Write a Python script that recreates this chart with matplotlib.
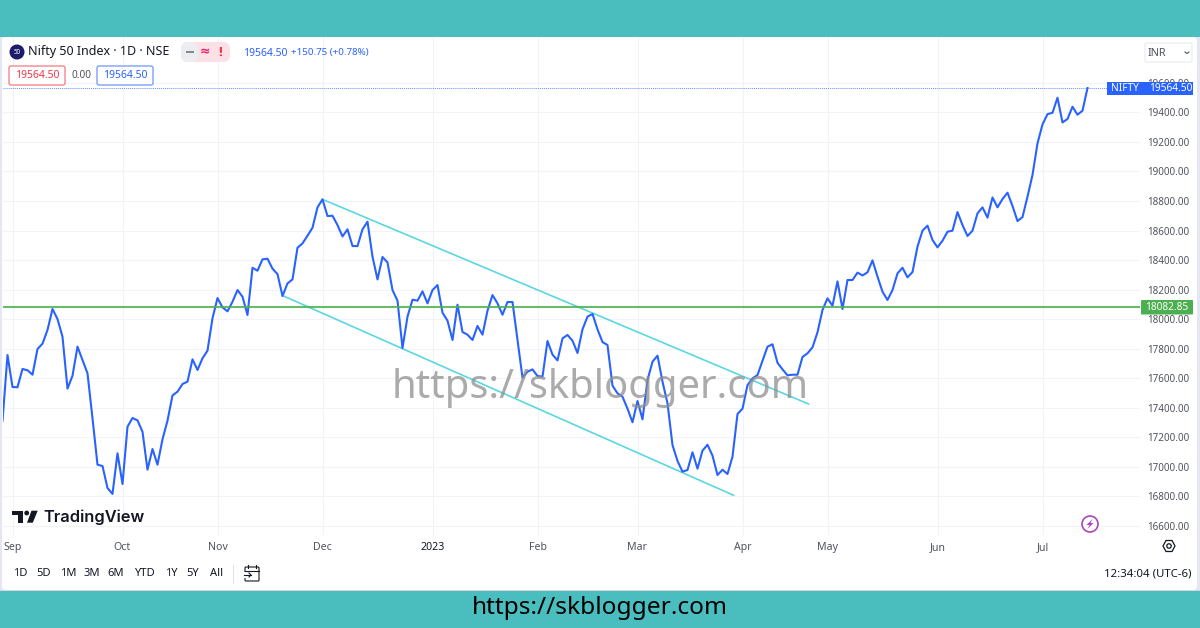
import matplotlib
matplotlib.use('Agg')
import matplotlib.pyplot as plt
from matplotlib.patches import Rectangle, FancyBboxPatch, Circle, Polygon

plt.rcParams['font.family'] = ['Noto Sans', 'DejaVu Sans']

# Data: daily closes, one per trading day
closes = [
    17311, 17757, 17541, 17539, 17663, 17654, 17624, 17798, 17834, 17927,
    18069, 18001, 17881, 17530, 17617, 17814, 17724, 17633, 17329, 17015,
    17006, 16857, 16817, 17092, 16884, 17272, 17331, 17315, 17238, 16981,
    17121, 17015, 17187, 17313, 17484, 17509, 17561, 17577, 17728, 17656,
    17735, 17787, 18006, 18143, 18080, 18053, 18118, 18197, 18152, 18028,
    18348, 18328, 18405, 18409, 18342, 18305, 18157, 18242, 18269, 18484,
    18513, 18565, 18619, 18757, 18811, 18698, 18700, 18637, 18560, 18608,
    18495, 18495, 18608, 18660, 18423, 18269, 18421, 18384, 18197, 18125,
    17805, 18017, 18132, 18125, 18188, 18107, 18197, 18231, 18044, 17990,
    17859, 18098, 17913, 17895, 17859, 17954, 17895, 18057, 18163, 18107,
    18030, 18116, 18116, 17859, 17604, 17644, 17660, 17615, 17611, 17852,
    17760, 17721, 17870, 17893, 17854, 17771, 17931, 18017, 18035, 17931,
    17845, 17825, 17550, 17498, 17475, 17394, 17302, 17446, 17322, 17588,
    17712, 17753, 17577, 17430, 17148, 17040, 16968, 16979, 17099, 16988,
    17110, 17150, 17076, 16945, 16981, 16952, 17069, 17358, 17394, 17554,
    17599, 17622, 17719, 17814, 17830, 17705, 17660, 17620, 17624, 17624,
    17744, 17769, 17809, 17911, 18062, 18141, 18091, 18256, 18069, 18265,
    18265, 18315, 18296, 18317, 18398, 18288, 18186, 18130, 18197, 18310,
    18348, 18283, 18319, 18491, 18599, 18633, 18536, 18486, 18531, 18592,
    18599, 18725, 18637, 18563, 18599, 18716, 18757, 18687, 18824, 18757,
    18813, 18856, 18766, 18664, 18691, 18829, 18976, 19190, 19318, 19388,
    19397, 19499, 19332, 19355, 19438, 19384, 19411, 19564.5,
]
month_labels = ['Sep', 'Oct', 'Nov', 'Dec', '2023', 'Feb', 'Mar', 'Apr', 'May', 'Jun', 'Jul']
month_bars = [2, 24, 43, 64, 86, 107, 127, 148, 165, 187, 208]
price_ticks = list(range(16600, 19800, 200))
support_level = 18082.85
last_price = 19564.50
upper_channel_x = [64, 161.2]
upper_channel_y = [18811, 17426]
lower_channel_x = [56, 146.2]
lower_channel_y = [18160, 16808]
range_buttons = ['1D', '5D', '1M', '3M', '6M', 'YTD', '1Y', '5Y', 'All']
range_button_x = [20.7, 43.7, 68, 92, 116, 144, 171, 193, 217]

TEAL = '#4abdbf'
BLUE = '#2962ff'
GREEN = '#4caf50'
CYAN = '#5ad7e0'
TEXT = '#50535e'
DARK = '#131722'
RED = '#f23645'

fig = plt.figure(figsize=(12, 6.28), dpi=100, facecolor='#e4e7f3')

# background bands and white panel, in pixel coordinates
bg = fig.add_axes([0, 0, 1, 1], zorder=0)
bg.set_xlim(0, 1200)
bg.set_ylim(628, 0)
bg.axis('off')
bg.add_patch(FancyBboxPatch((6, 41), 1187, 545, boxstyle='round,pad=4', fc='white', ec='none'))
bg.add_patch(Rectangle((0, 0), 1200, 37, fc=TEAL, ec='none'))
bg.add_patch(Rectangle((0, 591), 1200, 37, fc=TEAL, ec='none'))
bg.add_patch(Rectangle((0, 590), 1200, 1, fc='#d5d7dc', ec='none'))

# price chart
ax = fig.add_axes([2.5 / 1200, 93 / 628, 1137.5 / 1200, 498 / 628], zorder=1)
ax.patch.set_alpha(0)
ax.plot(range(len(closes)), closes, color=BLUE, lw=1.5, solid_joinstyle='round', zorder=4)
ax.plot(upper_channel_x, upper_channel_y, color=CYAN, lw=1.2, zorder=3)
ax.plot(lower_channel_x, lower_channel_y, color=CYAN, lw=1.2, zorder=3)
ax.axhline(support_level, color=GREEN, lw=1.5, alpha=0.85, zorder=5)
ax.axhline(last_price, color=BLUE, lw=0.7, ls=(0, (1, 1)), alpha=0.7, zorder=2)
ax.set_xlim(0, 227.5)
ax.set_ylim(16539, 19910)
ax.set_xticks(month_bars)
ax.set_xticklabels(month_labels, fontsize=7.6, color=TEXT)
ax.get_xticklabels()[4].set_fontweight('bold')
ax.get_xticklabels()[4].set_color(DARK)
ax.yaxis.tick_right()
ax.set_yticks(price_ticks)
ax.set_yticklabels([f'{p}.00' for p in price_ticks], fontsize=7.1, color=TEXT)
ax.tick_params(axis='both', length=0)
ax.tick_params(axis='x', pad=5)
ax.tick_params(axis='y', pad=5.5)
ax.grid(True, color='#f1f3f8', lw=0.8)
ax.set_axisbelow(True)
for s in ax.spines.values():
    s.set_visible(False)

# header, labels and buttons on top
ov = fig.add_axes([0, 0, 1, 1], zorder=2)
ov.set_xlim(0, 1200)
ov.set_ylim(628, 0)
ov.axis('off')
ov.patch.set_alpha(0)

ov.add_patch(Circle((17, 52), 7.5, fc='#1c1c6b', ec='none'))
ov.text(17, 52, '50', color='white', fontsize=4.5, fontweight='bold', ha='center', va='center')
ov.text(28, 52, 'Nifty 50 Index · 1D · NSE', color=DARK, fontsize=9, va='center')
ov.add_patch(FancyBboxPatch((188, 49), 35, 6, boxstyle='round,pad=7', fc='#fbe0e6', ec='none'))
ov.add_patch(FancyBboxPatch((188, 49), 3, 6, boxstyle='round,pad=7', fc='#ecedf1', ec='none'))
ov.add_patch(Rectangle((198, 45), 7, 14, fc='#fbe0e6', ec='none'))
ov.add_patch(Rectangle((186, 51), 8, 2, fc='#868993', ec='none'))
ov.text(205, 52, '≈', color='#e91e63', fontsize=9, fontweight='bold', ha='center', va='center')
ov.text(220, 52, '!', color=RED, fontsize=9, fontweight='bold', family='DejaVu Sans', ha='center', va='center')
ov.text(243, 53, '19564.50', color=BLUE, fontsize=7.5, va='center')
ov.text(291, 53, '+150.75 (+0.78%)', color=BLUE, fontsize=7, va='center')

ov.add_patch(FancyBboxPatch((11, 68), 52, 15, boxstyle='round,pad=2', fc='white', ec='#f7858f', lw=1))
ov.text(37, 75.5, '19564.50', color=RED, fontsize=7.5, ha='center', va='center')
ov.text(81, 75, '0.00', color=TEXT, fontsize=7.2, ha='center', va='center')
ov.add_patch(FancyBboxPatch((99, 68), 52, 15, boxstyle='round,pad=2', fc='white', ec='#7f9ffb', lw=1))
ov.text(125, 75.5, '19564.50', color=BLUE, fontsize=7.5, ha='center', va='center')

ov.add_patch(FancyBboxPatch((1147, 45), 43, 15, boxstyle='round,pad=2', fc='white', ec='#eceef3', lw=1))
ov.text(1148, 53, 'INR', color=TEXT, fontsize=7.8, va='center')
ov.plot([1185, 1187, 1189], [52, 53.5, 52], color=TEXT, lw=0.8)

# last price and level tags on the price scale
ov.add_patch(Rectangle((1107, 81.5), 86, 13.5, fc=BLUE, ec='none'))
ov.text(1111, 88.7, 'NIFTY', color='white', fontsize=7.3, va='center')
ov.text(1149, 88.7, '19564.50', color='white', fontsize=7.3, va='center')
ov.add_patch(FancyBboxPatch((1142, 301), 50, 12.5, boxstyle='round,pad=1', fc=GREEN, ec='none'))
ov.text(1167, 307.5, '18082.85', color='white', fontsize=7.3, ha='center', va='center')

# TradingView mark
ov.add_patch(Polygon([(12.3, 510.7), (23.3, 510.7), (23.3, 522.7), (18.3, 522.7), (18.3, 515.3), (12.3, 515.3)], fc=DARK, ec='none'))
ov.add_patch(Circle((26.7, 513), 2.4, fc=DARK, ec='none'))
ov.add_patch(Polygon([(31.5, 510.7), (37.7, 510.7), (32.8, 522.7), (27, 522.7)], fc=DARK, ec='none'))
ov.text(43, 517, 'TradingView', color=DARK, fontsize=11.8, fontweight='semibold', family='Inter', va='center')

# bolt badge and settings icon
ov.add_patch(Circle((1090, 524), 8, fc='white', ec='#ab47bc', lw=1.2))
ov.add_patch(Polygon([(1092.5, 519), (1086.5, 525), (1089.5, 525), (1087.5, 529), (1093.5, 523), (1090.5, 523)], fc='#ab47bc', ec='none'))
ov.add_patch(Polygon([(1163, 546), (1166, 540.5), (1172, 540.5), (1175, 546), (1172, 551.5), (1166, 551.5)], fc='none', ec=DARK, lw=0.9))
ov.add_patch(Circle((1169, 546), 2.2, fc='none', ec=DARK, lw=0.9))

# bottom toolbar
for label, x in zip(range_buttons, range_button_x):
    ov.text(x, 574, label, color=DARK, fontsize=8, ha='center', va='center')
ov.plot([233, 233], [565, 583], color='#e0e3eb', lw=0.8)
ov.add_patch(FancyBboxPatch((246, 568), 12, 12, boxstyle='round,pad=1', fc='none', ec=DARK, lw=0.8))
ov.plot([245, 259], [571, 571], color=DARK, lw=0.8)
ov.plot([248, 248], [565, 568], color=DARK, lw=0.8)
ov.plot([256, 256], [565, 568], color=DARK, lw=0.8)
ov.add_patch(Rectangle((243, 572), 5, 6, fc='white', ec='none'))
ov.plot([244, 251], [575, 575], color=DARK, lw=0.8)
ov.plot([249, 251, 249], [573, 575, 577], color=DARK, lw=0.8)
ov.text(1191, 574, '12:34:04 (UTC-6)', color=DARK, fontsize=8.2, ha='right', va='center')

# site watermark and footer
ov.text(600, 388, 'https://skblogger.com', color='#8f8f8f', alpha=0.75, fontsize=28.8, ha='center', va='center')
ov.text(600, 608, 'https://skblogger.com', color='black', fontsize=17.6, ha='center', va='center')

fig.savefig('out.png', dpi=100, facecolor=fig.get_facecolor())
